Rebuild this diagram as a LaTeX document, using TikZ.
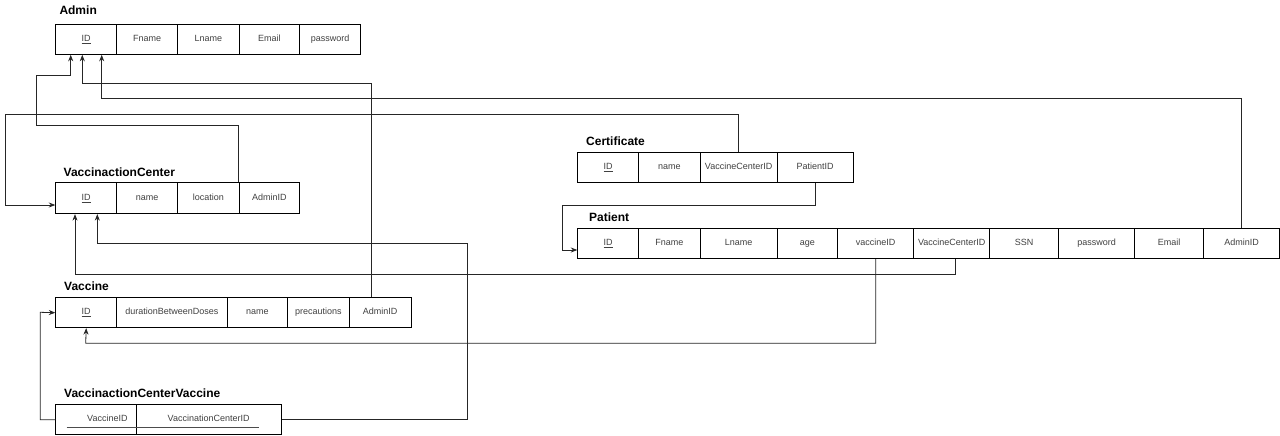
\documentclass[tikz,border=0pt]{standalone}
\usepackage{fontspec}
\setmainfont{Liberation Sans}
\usetikzlibrary{arrows.meta}
\tikzset{
  cellbox/.style={draw=black, line width=0.8pt, inner sep=0pt, anchor=north west,
    font=\fontsize{9}{10}\selectfont, text=black!75, text height=6.5pt, text depth=2pt},
  tabletitle/.style={anchor=base west, inner sep=0pt, font=\bfseries\fontsize{12}{14}\selectfont},
  conn/.style={draw=black!85, line width=0.8pt},
  fk/.style={conn, -{Stealth[length=6.5pt,width=5pt]}},
}
\newcommand\erow[4]{%
  \foreach \xa/\xb/\txt [count=\i] in {#4} {
    \node[cellbox, minimum width={(\xb-\xa)*1pt}, minimum height={(#3-#2)*1pt}] (#1-\i) at (\xa,#2) {\txt};
  }}
\begin{document}
\begin{tikzpicture}[x=1pt,y=-1pt]
\useasboundingbox[fill=white] (0,0) rectangle (1280,436);

% titles
\node[tabletitle] (tadmin) at (59.3,15) {Admin};
\node[tabletitle] (tvc) at (63.5,176) {VaccinactionCenter};
\node[tabletitle] (tvac) at (64,290) {Vaccine};
\node[tabletitle] (tvcv) at (64,397.3) {VaccinactionCenterVaccine};
\node[tabletitle] (tcert) at (586,145) {Certificate};
\node[tabletitle] (tpat) at (589,221.7) {Patient};

% tables
\erow{admin}{24}{54}{55.3/116.3/\underline{ID}, 116.3/177.3/Fname, 177.3/238.7/Lname, 238.7/299.3/Email, 299.3/360/password}
\erow{vc}{182.3}{213.3}{55.3/116.3/\underline{ID}, 116.3/177.3/name, 177.3/238.7/location, 238.7/299.3/AdminID}
\erow{vac}{297.3}{327.3}{55.3/116.3/\underline{ID}, 116.3/226.7/durationBetweenDoses, 226.7/287.3/name, 287.3/348.7/precautions, 348.7/410.7/AdminID}
\erow{vcv}{404.3}{434.3}{55.3/135.7/{\hspace*{23pt}VaccineID}, 135.7/280.7/VaccinationCenterID}
\erow{cert}{152.3}{182.3}{577.3/638.3/\underline{ID}, 638.3/699.7/name, 699.7/776.7/VaccineCenterID, 776.7/852.7/PatientID}
\erow{pat}{228.3}{258.3}{577.3/638.3/\underline{ID}, 638.3/699.7/Fname, 699.7/776.7/Lname, 776.7/837.3/age, 837.3/913.3/vaccineID, 913.3/989.3/VaccineCenterID, 989.3/1058.3/SSN, 1058.3/1134.3/password, 1134.3/1203.3/Email, 1203.3/1279.2/AdminID}

% key underline in junction table
\draw[black!70, line width=0.7pt] ([xshift=11.4pt,yshift=-7.3pt]vcv-1.west) -- ([xshift=-23pt,yshift=-7.3pt]vcv-2.east);

% connectors
\draw[fk] (vc-4.north west) |- (36,125) |- (70.7,75.7) -- ([xshift=15.4pt]admin-1.south west);
\draw[fk] ([xshift=22.3pt]vac-5.north west) |- (82.3,83.3) -- ([xshift=27pt]admin-1.south west);
\draw[fk] (pat-10.north) |- (101.7,98.3) -- ([xshift=46.4pt]admin-1.south west);
\draw[fk] (cert-3.north) |- (5,114) |- ([yshift=-22.7pt]vc-1.north west);
\draw[fk] (vcv-2.east) -| (467.3,243.3) -| ([xshift=42pt]vc-1.south west);
\draw[fk] ([xshift=42.4pt]pat-6.south west) |- (75,274.3) -- ([xshift=19.7pt]vc-1.south west);
\draw[fk] (pat-5.south) |- (85.7,343.3) -- (vac-1.south);
\draw[fk] (vcv-1.west) -| (40.3,312.3) -- (vac-1.west);
\draw[fk] (cert-4.south) |- (562.3,205) |- ([yshift=-21.7pt]pat-1.north west);
\end{tikzpicture}
\end{document}
